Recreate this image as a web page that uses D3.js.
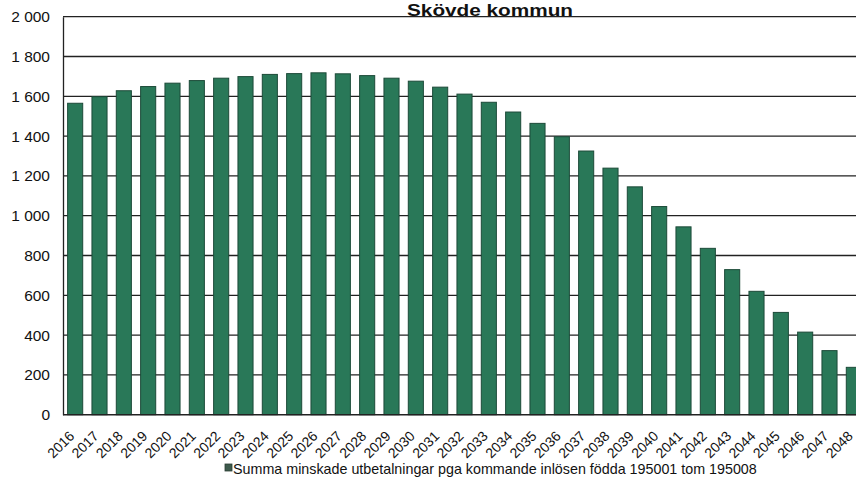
<!DOCTYPE html>
<html>
<head>
<meta charset="utf-8">
<script src="https://cdn.jsdelivr.net/npm/d3@7"></script>
<style>
  html, body { margin: 0; padding: 0; background: #fff; overflow: hidden; }
  svg { display: block; font-family: "Liberation Sans", Arial, sans-serif; }
</style>
</head>
<body>
<svg id="chart" width="856" height="479"></svg>
<script>
// Yearly totals (kr, thousands) of reduced payouts
const years = ["2016","2017","2018","2019","2020","2021","2022","2023","2024","2025",
  "2026","2027","2028","2029","2030","2031","2032","2033","2034","2035","2036","2037",
  "2038","2039","2040","2041","2042","2043","2044","2045","2046","2047","2048"];
const values = [1565, 1598, 1628, 1649, 1666, 1679, 1691, 1699, 1710, 1714,
  1718, 1713, 1704, 1691, 1676, 1646, 1611, 1570, 1521, 1464, 1397, 1325,
  1239, 1145, 1046, 944, 836, 729, 620, 514, 415, 322, 238];
const yTicks = [0, 200, 400, 600, 800, 1000, 1200, 1400, 1600, 1800, 2000];
const title = "Skövde kommun";
const seriesName = "Summa minskade utbetalningar pga kommande inlösen födda 195001 tom 195008";

const svg = d3.select("#chart");
const plotLeft = 63, plotRight = 866, plotTop = 16.7, plotBottom = 414.7;

const x = d3.scaleBand().domain(years).range([plotLeft, plotRight])
  .paddingInner(0.38).paddingOuter(0.19);
const y = d3.scaleLinear().domain([0, 2000]).range([plotBottom, plotTop]);

const fmt = d3.formatLocale({ decimal: ",", thousands: " ", grouping: [3], currency: ["", " kr"] }).format(",d");

// horizontal gridlines
svg.append("g")
  .selectAll("line").data(yTicks.filter(d => d > 0)).join("line")
  .attr("x1", plotLeft).attr("x2", 856)
  .attr("y1", d => y(d)).attr("y2", d => y(d))
  .attr("stroke", "#222").attr("stroke-width", 1.3);

// bars
svg.append("g")
  .selectAll("rect").data(values).join("rect")
  .attr("x", (d, i) => x(years[i]))
  .attr("width", x.bandwidth())
  .attr("y", d => y(d))
  .attr("height", d => y(0) - y(d))
  .attr("fill", "#297858")
  .attr("stroke", "#1c4a38")
  .attr("stroke-width", 1);

// y axis
const yAxis = svg.append("g").attr("transform", `translate(${plotLeft},0)`)
  .call(d3.axisLeft(y).tickValues(yTicks).tickFormat(fmt).tickSize(0).tickPadding(13));
yAxis.select(".domain").attr("stroke", "#222").attr("stroke-width", 1.3);
yAxis.selectAll("text").attr("font-size", 15.5).attr("fill", "#111")
  .attr("font-family", "'Liberation Sans', Arial, sans-serif");

// baseline
svg.append("line").attr("x1", plotLeft).attr("x2", 856)
  .attr("y1", y(0)).attr("y2", y(0))
  .attr("stroke", "#222").attr("stroke-width", 1.6);

// x labels, rotated
svg.append("g")
  .selectAll("text").data(years).join("text")
  .attr("transform", d => `translate(${x(d) + x.bandwidth() / 2},437) rotate(-45)`)
  .attr("text-anchor", "end")
  .attr("font-size", 14)
  .attr("fill", "#111")
  .text(d => d);

// title, widened slightly so it fits above the top gridline
svg.append("text")
  .attr("transform", "translate(490,15.8) scale(1.2,1)")
  .attr("text-anchor", "middle")
  .attr("font-size", 17.3).attr("font-weight", "bold").attr("fill", "#111")
  .text(title);

// legend
const lg = svg.append("g").attr("transform", "translate(225,474)");
lg.append("rect").attr("x", 0).attr("y", -10).attr("width", 7).attr("height", 7)
  .attr("fill", "#3d5a4c").attr("stroke", "#2b3d34").attr("stroke-width", 0.8);
lg.append("text").attr("x", 8).attr("y", 0)
  .attr("font-size", 14.3).attr("fill", "#111")
  .text(seriesName);
</script>
</body>
</html>
